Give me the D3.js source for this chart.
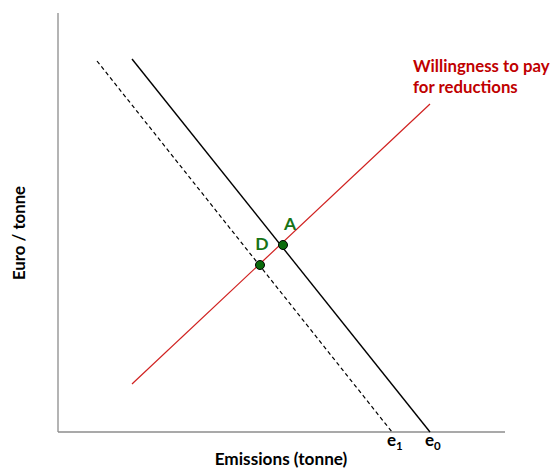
<!DOCTYPE html>
<html><head><meta charset="utf-8">
<script src="https://cdn.jsdelivr.net/npm/d3@7"></script>
<style>body{margin:0;background:#fff}svg{display:block}text{font-family:Lato,"Open Sans",sans-serif;font-weight:bold}</style>
</head><body>
<svg id="c" width="552" height="470"></svg>
<script>
// Data (arbitrary units, x: emissions, y: euro/tonne)
const marginalCost = [{x: 74, y: 373}, {x: 372, y: 0}];      // solid, ends at e0
const marginalCostShift = [{x: 39, y: 371}, {x: 334, y: 0}]; // dashed, ends at e1
const willingness = [{x: 74, y: 48}, {x: 372, y: 328}];     // red
const points = [{name: "A", x: 225, y: 187}, {name: "D", x: 202, y: 167}];
const xTickLabels = [{x: 334, label: "e", sub: "1"}, {x: 372, label: "e", sub: "0"}];
const willingnessLabel = ["Willingness to pay", "for reductions"];

const svg = d3.select("#c");
const x = d3.scaleLinear().domain([0, 447]).range([58, 505]);
const y = d3.scaleLinear().domain([0, 419]).range([432, 13]);
const line = d3.line().x(d => x(d.x)).y(d => y(d.y));

// axes
svg.append("line").attr("x1", x(0)).attr("x2", x(0)).attr("y1", y(419)).attr("y2", y(0))
  .attr("stroke", "#8c8c8c").attr("stroke-width", 1.3);
svg.append("line").attr("x1", x(0)).attr("x2", x(447)).attr("y1", y(0)).attr("y2", y(0))
  .attr("stroke", "#8c8c8c").attr("stroke-width", 1.3);

svg.append("path").attr("d", line(marginalCostShift)).attr("fill", "none")
  .attr("stroke", "#000").attr("stroke-width", 1.2).attr("stroke-dasharray", "4,3");
svg.append("path").attr("d", line(marginalCost)).attr("fill", "none")
  .attr("stroke", "#000").attr("stroke-width", 1.4);
svg.append("path").attr("d", line(willingness)).attr("fill", "none")
  .attr("stroke", "#d0201f").attr("stroke-width", 1.2);

svg.selectAll("circle.p").data(points).join("circle").attr("class", "p")
  .attr("cx", d => x(d.x)).attr("cy", d => y(d.y)).attr("r", 4.5)
  .attr("fill", "#0b6b0b").attr("stroke", "#000").attr("stroke-width", 1);
svg.selectAll("text.pl").data(points).join("text").attr("class", "pl")
  .attr("x", d => x(d.x) + (d.name === "A" ? 7 : 2)).attr("y", d => y(d.y) - 15)
  .attr("text-anchor", "middle").attr("fill", "#177317").attr("font-size", 17.5)
  .text(d => d.name);

// tick labels e1, e0
const tl = svg.selectAll("text.tl").data(xTickLabels).join("text").attr("class", "tl")
  .attr("x", d => x(d.x) - 5).attr("y", y(0) + 14).attr("font-size", 17).attr("fill", "#000");
tl.append("tspan").text(d => d.label);
tl.append("tspan").attr("dy", 4).attr("font-size", 11.5).text(d => d.sub);

// red label
svg.selectAll("text.wl").data(willingnessLabel).join("text").attr("class", "wl")
  .attr("x", 413).attr("y", (d, i) => 72 + i * 21).attr("fill", "#c00000").attr("font-size", 16.8)
  .text(d => d);

// axis titles
svg.append("text").attr("x", 281).attr("y", 465).attr("text-anchor", "middle")
  .attr("font-size", 17.2).attr("fill", "#000").text("Emissions (tonne)");
svg.append("text").attr("transform", "translate(25,233) rotate(-90)").attr("text-anchor", "middle")
  .attr("font-size", 16.8).attr("fill", "#000").text("Euro / tonne");
</script>
</body></html>
